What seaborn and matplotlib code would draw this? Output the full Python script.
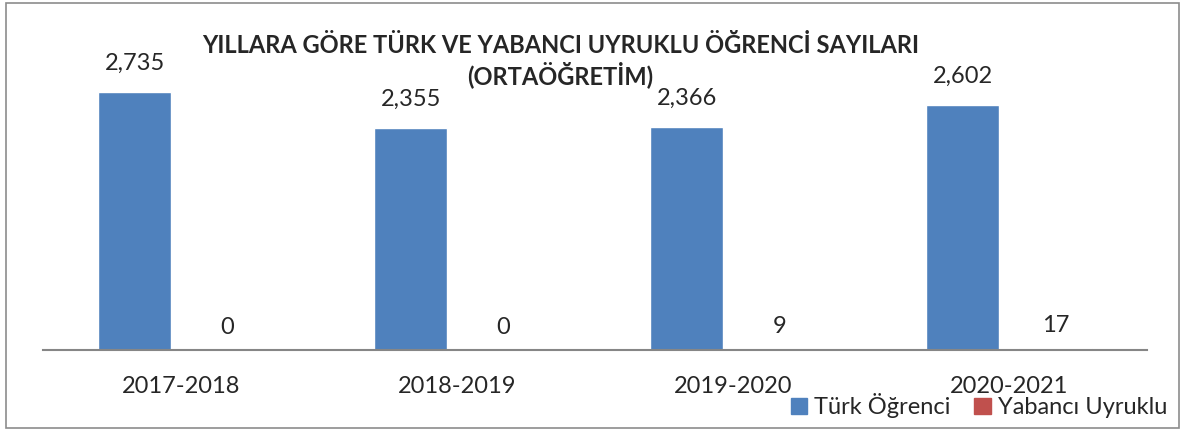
import pandas as pd
import matplotlib.pyplot as plt
import seaborn as sns
from matplotlib.patches import Rectangle

years = ["2017-2018", "2018-2019", "2019-2020", "2020-2021"]
turk = [2735, 2355, 2366, 2602]
yabanci = [0, 0, 9, 17]
series = ["Türk Öğrenci", "Yabancı Uyruklu"]
colors = ["#4F81BD", "#C0504D"]

df = pd.DataFrame({
    "yil": years * 2,
    "sayi": turk + yabanci,
    "grup": [series[0]] * len(years) + [series[1]] * len(years),
})

sns.set_style("white")
plt.rcParams["font.family"] = ["Lato", "DejaVu Sans"]

fig = plt.figure(figsize=(11.85, 4.3), dpi=100)
ax = fig.add_axes([0.0363, 0.186, 0.9317, 0.658])

sns.barplot(data=df, x="yil", y="sayi", hue="grup", palette=colors,
            saturation=1, width=0.672, gap=0.21, ax=ax, legend=False)

ax.set_ylim(0, 3000)
ax.set_xlim(-0.5, 3.5)
ax.set_xlabel("")
ax.set_ylabel("")
ax.set_yticks([])
for s in ["top", "right", "left"]:
    ax.spines[s].set_visible(False)
ax.spines["bottom"].set_color("#868686")
ax.spines["bottom"].set_linewidth(1.5)
ax.tick_params(axis="x", length=0, labelsize=17, pad=19)

for cont, pad in zip(ax.containers, [13, 9]):
    ax.bar_label(cont, labels=[f"{v:,.0f}" for v in cont.datavalues],
                 padding=pad, fontsize=17)

fig.text(0.473, 0.858, "YILLARA GÖRE TÜRK VE YABANCI UYRUKLU ÖĞRENCİ SAYILARI\n(ORTAÖĞRETİM)",
         ha="center", va="center", fontsize=17, fontweight="bold", linespacing=1.2)

handles = [Rectangle((0, 0), 1, 1, color=c) for c in colors]
fig.legend(handles, series, loc="lower right", bbox_to_anchor=(1.003, -0.022),
           ncol=2, frameon=False, fontsize=17, handlelength=0.7, handleheight=0.7,
           handletextpad=0.3, columnspacing=1.0)

fig.patches.append(Rectangle((0.005, 0.005), 0.99, 0.988, transform=fig.transFigure,
                             fill=False, edgecolor="#8C8C8C", linewidth=1.2))

fig.savefig("out.png", dpi=100)
